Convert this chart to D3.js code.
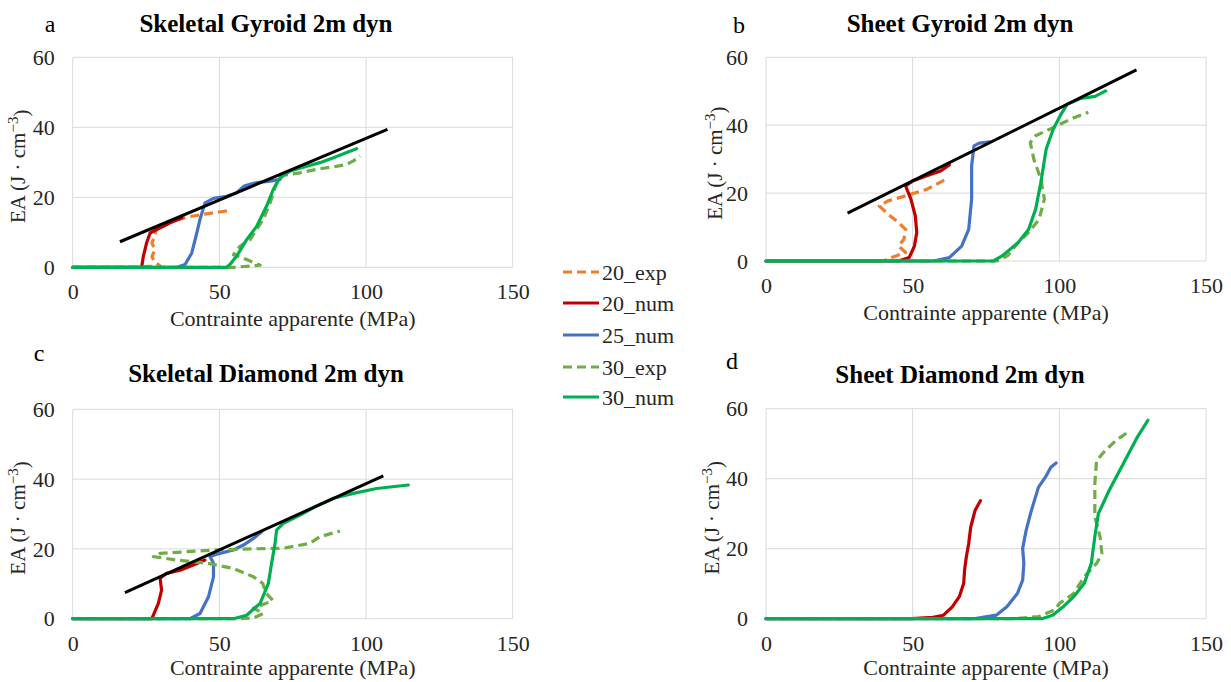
<!DOCTYPE html>
<html>
<head>
<meta charset="utf-8">
<script src="https://cdn.jsdelivr.net/npm/d3@7/dist/d3.min.js"></script>
<style>
  html, body { margin: 0; padding: 0; background: #fff; }
  svg { display: block; }
  text { font-family: "Liberation Serif", "Times New Roman", "DejaVu Serif", serif; }
</style>
</head>
<body>
<svg id="chart" width="1231" height="682"></svg>
<script>
// ---------------- DATA ----------------
const xTicks = [0, 50, 100, 150];
const yTicks = [0, 20, 40, 60];
const xDomain = [0, 150];
const yDomain = [0, 60];
const xAxisTitle = "Contrainte apparente (MPa)";
const panelLetters = ["a", "b", "c", "d"];
const panelTitles = ["Skeletal Gyroid 2m dyn", "Sheet Gyroid 2m dyn", "Skeletal Diamond 2m dyn", "Sheet Diamond 2m dyn"];
const seriesNames = ["20_exp", "20_num", "25_num", "30_exp", "30_num"];
const seriesColors = ["#ED7D31", "#C00000", "#4472C4", "#70AD47", "#00B050"];
const seriesDashed = [true, false, false, true, false];

// Panel a : Skeletal Gyroid
const a_20_exp = [[0,0],[22,0],[26,0.3],[30,0.2],[28,1.5],[27,3],[28,5],[27,7],[28,9],[28.5,11],[30,12],[35,13.5],[40,14.5],[45,15.2],[50,15.8],[54,16.3]];
const a_20_num = [[0,0],[23.5,0],[24.1,3.2],[25.2,7],[26.4,9.8],[28.6,10.8],[30.9,11.7],[33.2,12.7],[37.2,14.1]];
const a_25_num = [[0,0],[35.5,0],[38.3,0.8],[40.6,4.1],[42.3,9.8],[43.4,13.7],[45.1,18.4],[48,19.7],[52.5,20.3],[55.9,21.3],[58.4,23.2],[62.7,24.2],[67.3,24.6],[70.7,25.1]];
const a_30_exp = [[0,0],[55,0],[63.9,0.6],[59.3,2.2],[54.8,3.6],[57,6],[60.5,7.9],[62.7,10.8],[65,13.7],[67.3,18.4],[69.5,24.2],[71.8,26.3],[77.5,27],[83.2,28],[88.9,28.7],[93.4,29.4],[95.7,30.4],[98,31.8]];
const a_30_num = [[0,0],[52.5,0],[53.6,0.8],[55.9,3.2],[59.3,7.9],[62.7,11.7],[66.1,17.5],[68.4,22.3],[70.7,25.6],[74.1,27.5],[79.8,28.9],[84.3,29.9],[88.9,31.3],[93.4,32.8],[96.8,33.9]];
const a_fit = [[16.1,7.3],[107.3,39.4]];

// Panel b : Sheet Gyroid
const b_20_exp = [[0,0],[40,0],[42.8,1],[47.6,2.5],[45.2,4.4],[47,6.4],[47.6,9.3],[45.2,11.3],[41.6,13.8],[38.6,16.2],[41.6,17.7],[47.6,19.2],[54.8,21.1],[61.3,24.1]];
const b_20_num = [[0,0],[45.2,0],[48.8,1],[50.6,4.4],[51.4,8.4],[50.9,13.3],[49.4,18.2],[47.6,22.1],[50,23.6],[54.8,25.1],[59.5,26.5],[62.5,28.3]];
const b_25_num = [[0,0],[57.1,0],[62.5,1],[66.7,4.4],[69.1,9.3],[70.1,18.2],[70.1,28],[70.9,33.9],[72.7,34.7],[76.3,35.1]];
const b_30_exp = [[0,0],[78.7,0],[82.3,1.5],[85.9,5.4],[89.5,8.4],[93.1,12.3],[94.9,18.2],[93.7,24.1],[91.3,30],[90.1,34.9],[91.9,36.9],[97.9,39.3],[103.9,41.8],[109.9,43.8]];
const b_30_num = [[0,0],[77.5,0],[80.5,1.5],[85.9,5.4],[89.5,9.3],[91.9,15.2],[93.7,23.1],[95.5,32.9],[97.9,38.8],[100.3,42.8],[102.7,46.2],[107.4,47.9],[112.2,48.5],[115.8,50.1]];
const b_fit = [[27.8,14.1],[126.3,56.3]];

// Panel c : Skeletal Diamond
const c_20_exp = [];
const c_20_num = [[0,0],[26.9,0],[27.5,1],[29.2,4.4],[30.3,8.2],[29.8,11.6],[32,13],[36.6,13.9],[41.1,15.4],[45.1,16.8]];
const c_25_num = [[0,0],[40,0],[43.4,1.5],[46.3,6.3],[48,12],[48,15.9],[46.8,17.8],[49.1,18.5],[54.8,19.7],[58.2,21.1],[61.6,23],[64.4,24.9]];
const c_30_exp = [[0,0],[56,0],[61.6,0.2],[65,1.5],[61.6,3],[65.9,4.4],[68.2,5.3],[65.9,7.3],[64.8,10.1],[61.6,12],[54.8,14.4],[45.7,15.9],[35.5,16.8],[27.5,17.8],[29.8,18.7],[38.9,19.2],[49.1,19.7],[60.5,20],[71.8,20.2],[80.9,21.6],[84.3,23.5],[91.1,25.1]];
const c_30_num = [[0,0],[54.8,0],[59.3,1],[63.9,4.4],[66.7,10.1],[67.8,15.9],[69,21.6],[69.5,25.4],[71.8,27.3],[77.5,29.7],[83.2,32.3],[88.9,34.5],[95.7,35.9],[103.6,37.3],[114.4,38.3]];
const c_fit = [[17.8,7.5],[105.9,40.9]];

// Panel d : Sheet Diamond
const d_20_exp = [];
const d_20_num = [[0,0],[49.6,0],[56.9,0.4],[60.5,1],[63.5,3.4],[65.9,6.3],[67.4,10.1],[67.7,13.9],[68.3,17.7],[69.1,21.5],[69.8,26.2],[71.3,31],[73.1,33.7]];
const d_25_num = [[0,0],[71.3,0],[78.5,1],[82.1,3.4],[85.7,7.2],[87.5,11],[87.9,15.8],[87.5,20.1],[88.7,25.3],[90.5,31],[92.9,37.6],[95.3,40.5],[97.1,43.3],[98.9,44.5]];
const d_30_exp = [[0,0],[84.5,0],[92.9,0.6],[98.3,2.5],[100.1,4.4],[104.9,7.2],[108.5,12],[112.7,15.8],[114.5,18.6],[113.9,23.4],[112.1,29.1],[112.1,38.6],[112.7,45.2],[115.7,48.1],[119.4,51],[124.2,53.8]];
const d_30_num = [[0,0],[94.1,0],[97.7,1],[101.3,3.4],[104.9,6.3],[108.5,10.1],[110.9,15.8],[112.1,23.4],[113.3,30],[117,36.7],[121.8,44.3],[126.6,51.9],[130.2,56.7]];
const d_fit = [];

const panelSeries = [
  [a_20_exp, a_20_num, a_25_num, a_30_exp, a_30_num],
  [b_20_exp, b_20_num, b_25_num, b_30_exp, b_30_num],
  [c_20_exp, c_20_num, c_25_num, c_30_exp, c_30_num],
  [d_20_exp, d_20_num, d_25_num, d_30_exp, d_30_num]
];
const panelFits = [a_fit, b_fit, c_fit, d_fit];

// ---------------- LAYOUT ----------------
const FONT = "'Liberation Serif', 'Times New Roman', serif";
const boxes = [
  {left: 72.7, right: 512.7, top: 57.3, bottom: 267.3, titleX: 266, titleY: 32, letterX: 50, letterY: 32, yTitleX: 18, xTitleDy: 59},
  {left: 766, right: 1206, top: 57.3, bottom: 261, titleX: 960, titleY: 32, letterX: 739, letterY: 33, yTitleX: 715, xTitleDy: 59},
  {left: 72.7, right: 512.7, top: 409.3, bottom: 618.7, titleX: 266, titleY: 382, letterX: 39, letterY: 361, yTitleX: 18, xTitleDy: 56},
  {left: 766, right: 1206, top: 408.7, bottom: 618.7, titleX: 960, titleY: 383, letterX: 732, letterY: 369, yTitleX: 712, xTitleDy: 56}
];

const svg = d3.select("#chart");

boxes.forEach((b, i) => {
  const x = d3.scaleLinear().domain(xDomain).range([b.left, b.right]);
  const y = d3.scaleLinear().domain(yDomain).range([b.bottom, b.top]);
  const g = svg.append("g");

  // gridlines
  g.append("g").selectAll("line").data(yTicks).join("line")
    .attr("x1", b.left).attr("x2", b.right)
    .attr("y1", d => y(d)).attr("y2", d => y(d))
    .attr("stroke", "#D9D9D9").attr("stroke-width", 1);
  g.append("g").selectAll("line").data(xTicks).join("line")
    .attr("y1", b.top).attr("y2", b.bottom)
    .attr("x1", d => x(d)).attr("x2", d => x(d))
    .attr("stroke", "#D9D9D9").attr("stroke-width", 1);

  // axes (labels only)
  const xa = g.append("g").attr("transform", `translate(0,${b.bottom})`)
    .call(d3.axisBottom(x).tickValues(xTicks).tickSize(0).tickPadding(0));
  xa.attr("font-family", FONT).attr("font-size", 22);
  xa.select(".domain").remove();
  xa.selectAll("text").attr("dy", null).attr("y", 32).attr("fill", "#262626");
  const ya = g.append("g").attr("transform", `translate(${b.left},0)`)
    .call(d3.axisLeft(y).tickValues(yTicks).tickSize(0).tickPadding(0));
  ya.attr("font-family", FONT).attr("font-size", 22);
  ya.select(".domain").remove();
  ya.selectAll("text").attr("x", -18).attr("dy", "0.33em").attr("fill", "#262626");

  // axis titles
  g.append("text").attr("x", (b.left + b.right) / 2).attr("y", b.bottom + b.xTitleDy)
    .attr("text-anchor", "middle").attr("font-family", FONT).attr("font-size", 22).attr("fill", "#262626")
    .text(xAxisTitle);
  const yt = g.append("text")
    .attr("transform", `translate(${b.yTitleX},${(b.top + b.bottom) / 2 + 4}) rotate(-90)`)
    .attr("text-anchor", "middle").attr("dy", "0.35em")
    .attr("font-family", FONT).attr("font-size", 21).attr("fill", "#262626");
  yt.append("tspan").text("EA (J · cm");
  yt.append("tspan").attr("dy", "-0.5em").attr("font-size", 15).text("−3");
  yt.append("tspan").attr("dy", "0.5em").text(")");

  // title & letter
  g.append("text").attr("x", b.titleX).attr("y", b.titleY).attr("text-anchor", "middle")
    .attr("font-family", FONT).attr("font-size", 25).attr("font-weight", "bold").attr("fill", "#000")
    .text(panelTitles[i]);
  g.append("text").attr("x", b.letterX).attr("y", b.letterY).attr("text-anchor", "middle")
    .attr("font-family", FONT).attr("font-size", 24).attr("fill", "#000").text(panelLetters[i]);

  // series
  const mk = d3.line().x(d => x(d[0])).y(d => y(d[1])).curve(d3.curveLinear);
  panelSeries[i].forEach((data, k) => {
    if (!data.length) return;
    g.append("path").datum(data).attr("d", mk)
      .attr("fill", "none").attr("stroke", seriesColors[k])
      .attr("stroke-width", 3.2)
      .attr("stroke-linejoin", "round")
      .attr("stroke-linecap", seriesDashed[k] ? "butt" : "round")
      .attr("stroke-dasharray", seriesDashed[k] ? "9,5" : null);
  });
  if (panelFits[i].length) {
    g.append("path").datum(panelFits[i]).attr("d", d3.line().x(d => x(d[0])).y(d => y(d[1])))
      .attr("stroke", "#000").attr("stroke-width", 3).attr("fill", "none");
  }
});

// legend
const legY = [272, 303, 335, 367, 397];
const lg = svg.append("g");
seriesNames.forEach((name, k) => {
  lg.append("line").attr("x1", 563).attr("x2", 599).attr("y1", legY[k]).attr("y2", legY[k])
    .attr("stroke", seriesColors[k]).attr("stroke-width", 3.2)
    .attr("stroke-dasharray", seriesDashed[k] ? "9,5" : null);
  lg.append("text").attr("x", 602).attr("y", legY[k]).attr("dy", "0.35em")
    .attr("font-family", FONT).attr("font-size", 22).attr("fill", "#262626").text(name);
});
</script>
</body>
</html>
